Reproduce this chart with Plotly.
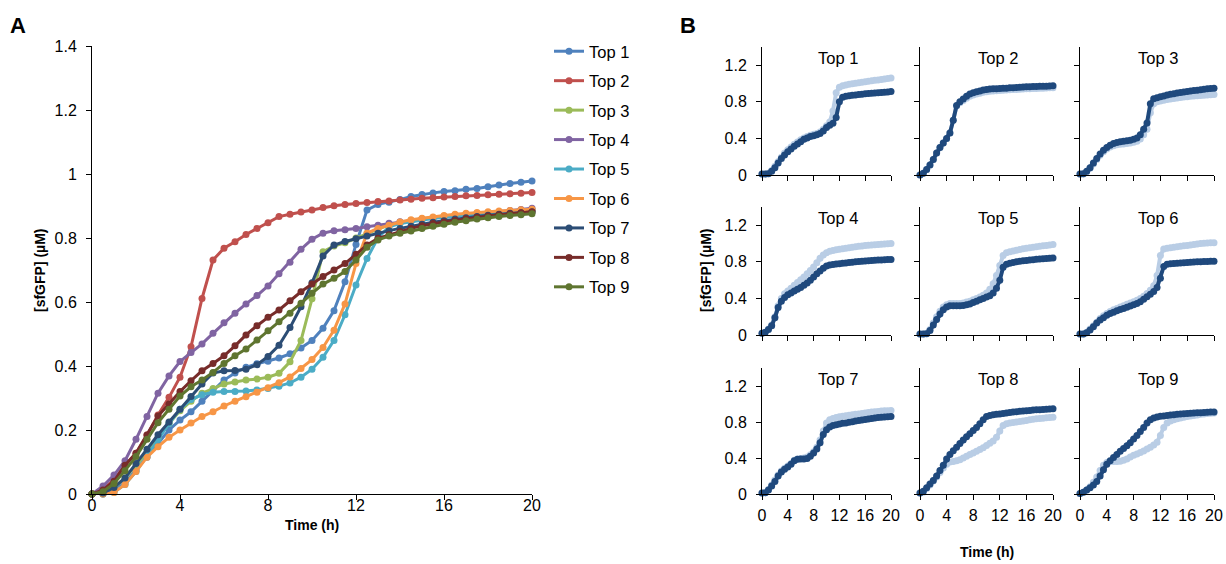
import plotly.graph_objects as go

W, H = 1226, 564

# ---------------- data ----------------
TIME_H = [h / 2 for h in range(41)]          # 0, 0.5, ... 20 h
SERIES = ["Top 1", "Top 2", "Top 3", "Top 4", "Top 5", "Top 6", "Top 7", "Top 8", "Top 9"]

# Panel A: [sfGFP] (uM) every 0.5 h
A_TOP1 = [0, 0, 0.01, 0.035, 0.075, 0.115, 0.158, 0.2, 0.231, 0.257, 0.29, 0.325, 0.356, 0.378, 0.396, 0.407, 0.415, 0.425, 0.438, 0.456, 0.48, 0.518, 0.573, 0.663, 0.78, 0.8875, 0.905, 0.912, 0.92, 0.93, 0.936, 0.941, 0.945, 0.948, 0.952, 0.955, 0.96, 0.966, 0.97, 0.974, 0.978]
A_TOP2 = [0, 0.015, 0.045, 0.09, 0.127, 0.184, 0.247, 0.302, 0.365, 0.46, 0.611, 0.731, 0.768, 0.788, 0.811, 0.83, 0.848, 0.867, 0.874, 0.881, 0.8875, 0.895, 0.901, 0.905, 0.908, 0.911, 0.914, 0.916, 0.919, 0.921, 0.924, 0.926, 0.928, 0.93, 0.932, 0.933, 0.935, 0.937, 0.938, 0.94, 0.942]
A_TOP3 = [0, 0.005, 0.02, 0.05, 0.09, 0.13, 0.175, 0.22, 0.26, 0.29, 0.315, 0.33, 0.344, 0.35, 0.356, 0.359, 0.365, 0.377, 0.413, 0.48, 0.61, 0.757, 0.775, 0.785, 0.8, 0.815, 0.828, 0.84, 0.848, 0.855, 0.86, 0.864, 0.868, 0.872, 0.875, 0.877, 0.879, 0.881, 0.883, 0.885, 0.887]
A_TOP4 = [0, 0.025, 0.059, 0.104, 0.171, 0.242, 0.315, 0.369, 0.414, 0.442, 0.469, 0.502, 0.535, 0.565, 0.594, 0.62, 0.65, 0.688, 0.724, 0.765, 0.796, 0.815, 0.823, 0.826, 0.83, 0.835, 0.84, 0.846, 0.851, 0.855, 0.859, 0.863, 0.866, 0.869, 0.872, 0.875, 0.878, 0.882, 0.886, 0.889, 0.893]
A_TOP5 = [0, 0, 0.005, 0.03, 0.07, 0.12, 0.17, 0.22, 0.265, 0.295, 0.31, 0.318, 0.32, 0.32, 0.322, 0.325, 0.33, 0.337, 0.347, 0.365, 0.39, 0.427, 0.48, 0.56, 0.653, 0.736, 0.8, 0.835, 0.845, 0.851, 0.856, 0.861, 0.865, 0.869, 0.872, 0.875, 0.878, 0.88, 0.882, 0.884, 0.886]
A_TOP6 = [0, 0, 0.005, 0.03, 0.07, 0.115, 0.148, 0.177, 0.2, 0.222, 0.242, 0.257, 0.275, 0.29, 0.304, 0.318, 0.332, 0.348, 0.366, 0.392, 0.42, 0.458, 0.512, 0.594, 0.72, 0.815, 0.83, 0.84, 0.85, 0.857, 0.862, 0.866, 0.87, 0.874, 0.877, 0.88, 0.882, 0.884, 0.886, 0.888, 0.89]
A_TOP7 = [0, 0.003, 0.02, 0.05, 0.095, 0.14, 0.185, 0.225, 0.265, 0.305, 0.344, 0.378, 0.385, 0.386, 0.39, 0.404, 0.43, 0.465, 0.52, 0.585, 0.66, 0.744, 0.778, 0.789, 0.798, 0.806, 0.815, 0.823, 0.83, 0.837, 0.843, 0.849, 0.854, 0.859, 0.863, 0.867, 0.871, 0.874, 0.877, 0.879, 0.881]
A_TOP8 = [0, 0.0125, 0.04, 0.09, 0.127, 0.184, 0.244, 0.281, 0.32, 0.354, 0.385, 0.408, 0.432, 0.463, 0.497, 0.526, 0.552, 0.575, 0.604, 0.632, 0.656, 0.68, 0.7, 0.72, 0.749, 0.778, 0.799, 0.81, 0.82, 0.83, 0.838, 0.845, 0.85, 0.855, 0.86, 0.865, 0.869, 0.873, 0.876, 0.879, 0.882]
A_TOP9 = [0, 0.007, 0.033, 0.073, 0.117, 0.171, 0.223, 0.265, 0.306, 0.335, 0.356, 0.38, 0.408, 0.432, 0.453, 0.481, 0.51, 0.538, 0.565, 0.596, 0.627, 0.656, 0.674, 0.695, 0.731, 0.771, 0.794, 0.806, 0.815, 0.822, 0.83, 0.837, 0.843, 0.849, 0.854, 0.859, 0.863, 0.867, 0.87, 0.873, 0.876]

# Panel B: light and dark series per construct, every 0.5 h
B_TOP1_LIGHT = [0.01, 0.01, 0.018, 0.05, 0.095, 0.145, 0.195, 0.24, 0.275, 0.305, 0.335, 0.36, 0.385, 0.405, 0.42, 0.435, 0.445, 0.455, 0.47, 0.5, 0.54, 0.58, 0.7, 0.9, 0.96, 0.975, 0.985, 0.992, 0.998, 1.004, 1.01, 1.015, 1.02, 1.025, 1.03, 1.035, 1.04, 1.045, 1.05, 1.055, 1.06]
B_TOP1_DARK = [0.01, 0.01, 0.015, 0.04, 0.08, 0.13, 0.18, 0.22, 0.255, 0.285, 0.315, 0.34, 0.365, 0.39, 0.405, 0.42, 0.43, 0.44, 0.455, 0.48, 0.52, 0.545, 0.565, 0.63, 0.8, 0.85, 0.86, 0.866, 0.871, 0.876, 0.88, 0.884, 0.888, 0.891, 0.894, 0.897, 0.9, 0.903, 0.906, 0.909, 0.912]
B_TOP2_LIGHT = [0, 0.02, 0.06, 0.11, 0.17, 0.24, 0.3, 0.35, 0.4, 0.46, 0.6, 0.755, 0.79, 0.815, 0.84, 0.86, 0.875, 0.885, 0.895, 0.905, 0.91, 0.915, 0.918, 0.921, 0.924, 0.927, 0.93, 0.932, 0.934, 0.936, 0.938, 0.94, 0.942, 0.943, 0.945, 0.946, 0.948, 0.95, 0.952, 0.953, 0.955]
B_TOP2_DARK = [0, 0.02, 0.06, 0.11, 0.17, 0.24, 0.3, 0.35, 0.4, 0.46, 0.6, 0.76, 0.8, 0.83, 0.86, 0.885, 0.9, 0.91, 0.92, 0.93, 0.935, 0.94, 0.942, 0.944, 0.946, 0.948, 0.95, 0.953, 0.955, 0.957, 0.96, 0.962, 0.964, 0.966, 0.968, 0.969, 0.97, 0.971, 0.972, 0.974, 0.975]
B_TOP3_LIGHT = [0.01, 0.012, 0.035, 0.075, 0.12, 0.17, 0.215, 0.255, 0.285, 0.305, 0.32, 0.33, 0.335, 0.34, 0.345, 0.35, 0.357, 0.37, 0.395, 0.44, 0.5, 0.68, 0.78, 0.8, 0.81, 0.818, 0.825, 0.832, 0.838, 0.843, 0.848, 0.852, 0.856, 0.86, 0.863, 0.866, 0.869, 0.872, 0.875, 0.878, 0.88]
B_TOP3_DARK = [0.01, 0.015, 0.04, 0.08, 0.13, 0.18, 0.23, 0.27, 0.3, 0.325, 0.345, 0.355, 0.365, 0.37, 0.375, 0.38, 0.39, 0.405, 0.44, 0.5, 0.57, 0.78, 0.835, 0.845, 0.855, 0.865, 0.875, 0.882, 0.89, 0.897, 0.903, 0.908, 0.913, 0.918, 0.923, 0.928, 0.933, 0.938, 0.943, 0.947, 0.95]
B_TOP4_LIGHT = [0.02, 0.03, 0.065, 0.11, 0.2, 0.32, 0.4, 0.45, 0.48, 0.51, 0.545, 0.575, 0.605, 0.635, 0.67, 0.705, 0.745, 0.79, 0.84, 0.875, 0.9, 0.915, 0.925, 0.932, 0.938, 0.944, 0.95, 0.955, 0.96, 0.965, 0.97, 0.974, 0.978, 0.982, 0.985, 0.988, 0.99, 0.993, 0.995, 0.997, 1.0]
B_TOP4_DARK = [0.02, 0.03, 0.06, 0.1, 0.19, 0.3, 0.37, 0.41, 0.44, 0.46, 0.48, 0.5, 0.52, 0.545, 0.57, 0.6, 0.635, 0.67, 0.7, 0.73, 0.755, 0.765, 0.772, 0.776, 0.78, 0.784, 0.788, 0.792, 0.796, 0.8, 0.803, 0.806, 0.809, 0.812, 0.815, 0.817, 0.819, 0.821, 0.823, 0.825, 0.827]
B_TOP5_LIGHT = [0.01, 0.01, 0.02, 0.06, 0.13, 0.2, 0.26, 0.305, 0.33, 0.345, 0.345, 0.345, 0.345, 0.35, 0.36, 0.37, 0.385, 0.4, 0.415, 0.435, 0.46, 0.5, 0.56, 0.65, 0.76, 0.87, 0.9, 0.91, 0.92, 0.928, 0.935, 0.942, 0.948, 0.955, 0.96, 0.965, 0.97, 0.975, 0.98, 0.985, 0.99]
B_TOP5_DARK = [0.01, 0.01, 0.015, 0.05, 0.11, 0.17, 0.23, 0.275, 0.305, 0.32, 0.32, 0.32, 0.32, 0.322, 0.33, 0.34, 0.355, 0.37, 0.385, 0.4, 0.415, 0.43, 0.46, 0.51, 0.6, 0.74, 0.775, 0.785, 0.793, 0.8, 0.806, 0.811, 0.816, 0.82, 0.824, 0.828, 0.832, 0.835, 0.838, 0.84, 0.842]
B_TOP6_LIGHT = [0.01, 0.012, 0.03, 0.065, 0.1, 0.14, 0.18, 0.21, 0.235, 0.258, 0.275, 0.29, 0.305, 0.32, 0.335, 0.35, 0.365, 0.38, 0.4, 0.425, 0.455, 0.49, 0.54, 0.65, 0.87, 0.94, 0.95, 0.955, 0.96, 0.965, 0.97, 0.975, 0.98, 0.985, 0.99, 0.995, 1.0, 1.003, 1.006, 1.008, 1.01]
B_TOP6_DARK = [0.01, 0.01, 0.025, 0.055, 0.09, 0.13, 0.165, 0.19, 0.215, 0.236, 0.25, 0.265, 0.278, 0.29, 0.303, 0.316, 0.33, 0.345, 0.365, 0.39, 0.418, 0.445, 0.475, 0.52, 0.62, 0.75, 0.775, 0.78, 0.782, 0.785, 0.788, 0.79, 0.793, 0.796, 0.798, 0.8, 0.802, 0.804, 0.805, 0.806, 0.807]
B_TOP7_LIGHT = [0.01, 0.015, 0.05, 0.1, 0.155, 0.21, 0.255, 0.285, 0.31, 0.34, 0.375, 0.39, 0.395, 0.4, 0.41, 0.435, 0.47, 0.52, 0.6, 0.7, 0.79, 0.825, 0.84, 0.85, 0.858, 0.865, 0.87, 0.875, 0.88, 0.885, 0.89, 0.895, 0.9, 0.905, 0.91, 0.915, 0.918, 0.921, 0.924, 0.926, 0.928]
B_TOP7_DARK = [0.01, 0.015, 0.045, 0.09, 0.14, 0.2, 0.245, 0.275, 0.3, 0.33, 0.37, 0.385, 0.39, 0.39, 0.395, 0.42, 0.455, 0.5, 0.57, 0.66, 0.715, 0.745, 0.76, 0.77, 0.778, 0.785, 0.79, 0.797, 0.803, 0.81, 0.816, 0.822, 0.828, 0.834, 0.84, 0.845, 0.85, 0.853, 0.856, 0.859, 0.862]
B_TOP8_LIGHT = [0.01, 0.02, 0.06, 0.1, 0.145, 0.19, 0.24, 0.29, 0.33, 0.355, 0.36, 0.37, 0.38, 0.4, 0.42, 0.44, 0.455, 0.475, 0.495, 0.515, 0.54, 0.565, 0.59, 0.63, 0.7, 0.76, 0.78, 0.79, 0.795, 0.8, 0.806, 0.812, 0.818, 0.824, 0.83, 0.835, 0.84, 0.843, 0.846, 0.849, 0.852]
B_TOP8_DARK = [0.01, 0.03, 0.07, 0.11, 0.15, 0.2, 0.26, 0.32, 0.39, 0.44, 0.48, 0.52, 0.56, 0.6, 0.635, 0.67, 0.705, 0.74, 0.78, 0.825, 0.86, 0.872, 0.88, 0.885, 0.89, 0.895, 0.9, 0.905, 0.91, 0.915, 0.92, 0.923, 0.926, 0.929, 0.932, 0.935, 0.937, 0.94, 0.942, 0.945, 0.948]
B_TOP9_LIGHT = [0.005, 0.02, 0.045, 0.08, 0.13, 0.19, 0.26, 0.32, 0.35, 0.36, 0.36, 0.362, 0.365, 0.375, 0.39, 0.41, 0.43, 0.445, 0.46, 0.478, 0.5, 0.52, 0.545, 0.575, 0.65, 0.74, 0.79, 0.81, 0.825, 0.835, 0.845, 0.853, 0.86, 0.867, 0.873, 0.879, 0.885, 0.89, 0.894, 0.897, 0.9]
B_TOP9_DARK = [0.005, 0.02, 0.045, 0.07, 0.1, 0.14, 0.2, 0.27, 0.33, 0.37, 0.405, 0.44, 0.475, 0.505, 0.535, 0.57, 0.61, 0.65, 0.695, 0.74, 0.79, 0.826, 0.845, 0.855, 0.863, 0.868, 0.873, 0.877, 0.881, 0.885, 0.889, 0.892, 0.895, 0.898, 0.9, 0.902, 0.904, 0.906, 0.908, 0.91, 0.911]

A_TICKS_X = [0, 4, 8, 12, 16, 20]
A_TICKS_Y = [0, 0.2, 0.4, 0.6, 0.8, 1, 1.2, 1.4]
B_TICKS_X = [0, 4, 8, 12, 16, 20]
B_TICKS_Y = [0, 0.4, 0.8, 1.2]

# ---------------- style ----------------
A_COLORS = ["#4F81BD", "#C0504D", "#9BBB59", "#8064A2", "#4BACC6",
            "#F79646", "#2C4D75", "#772C2A", "#5F7530"]
LIGHT = "#B9CDE5"
DARK = "#1F497D"
FONT = "Liberation Sans, Arial, sans-serif"

A_DATA = [A_TOP1, A_TOP2, A_TOP3, A_TOP4, A_TOP5, A_TOP6, A_TOP7, A_TOP8, A_TOP9]
B_DATA = [(B_TOP1_LIGHT, B_TOP1_DARK), (B_TOP2_LIGHT, B_TOP2_DARK), (B_TOP3_LIGHT, B_TOP3_DARK),
          (B_TOP4_LIGHT, B_TOP4_DARK), (B_TOP5_LIGHT, B_TOP5_DARK), (B_TOP6_LIGHT, B_TOP6_DARK),
          (B_TOP7_LIGHT, B_TOP7_DARK), (B_TOP8_LIGHT, B_TOP8_DARK), (B_TOP9_LIGHT, B_TOP9_DARK)]
for arr in A_DATA + [a for p in B_DATA for a in p]:
    assert len(arr) == len(TIME_H), len(arr)


def fx(px):
    return px / W


def fy(py):
    return 1 - py / H


fig = go.Figure()

# Panel A
for name, vals, col in zip(SERIES, A_DATA, A_COLORS):
    fig.add_trace(go.Scatter(
        x=TIME_H, y=vals, name=name, mode="lines+markers",
        line=dict(color=col, width=3), marker=dict(color=col, size=7),
        legendgroup=name, cliponaxis=False, xaxis="x", yaxis="y"))

axis_common = dict(showline=True, linecolor="black", linewidth=1, ticks="outside",
                   ticklen=5, tickwidth=1, tickcolor="black", showgrid=False,
                   zeroline=False, automargin=False,
                   tickfont=dict(family=FONT, size=16, color="black"))

layout = dict(
    template="none",
    width=W, height=H, margin=dict(l=0, r=0, t=0, b=0, pad=0),
    paper_bgcolor="white", plot_bgcolor="white",
    font=dict(family=FONT, color="black"),
    showlegend=True,
    legend=dict(x=fx(549), y=fy(34), xanchor="left", yanchor="top",
                font=dict(family=FONT, size=16.5, color="black"),
                tracegroupgap=5, bgcolor="rgba(0,0,0,0)", traceorder="grouped",
                borderwidth=0),
    xaxis=dict(domain=[fx(92), fx(532)], range=[0, 20], tickvals=A_TICKS_X, anchor="y",
               ticklabelstandoff=-8, **axis_common),
    yaxis=dict(domain=[fy(494), fy(46)], range=[0, 1.4], tickvals=A_TICKS_Y, anchor="x",
               ticklabelstandoff=6, **axis_common),
)

COLS = [(762, 891), (920, 1053), (1080, 1214)]
ROWS = [(47, 175), (207, 335), (368, 494)]
annotations = []
for i, (name, (light, dark)) in enumerate(zip(SERIES, B_DATA)):
    r, c = divmod(i, 3)
    k = i + 2
    xa, ya = f"x{k}", f"y{k}"
    for vals, col in ((light, LIGHT), (dark, DARK)):
        fig.add_trace(go.Scatter(
            x=TIME_H, y=vals, mode="lines+markers", showlegend=False,
            line=dict(color=col, width=4), marker=dict(color=col, size=7),
            cliponaxis=False, xaxis=xa, yaxis=ya, name=name))
    layout[f"xaxis{k}"] = dict(domain=[fx(COLS[c][0]), fx(COLS[c][1])], range=[0, 20],
                               tickvals=B_TICKS_X, showticklabels=(r == 2), anchor=ya,
                               ticklabelstandoff=2, **axis_common)
    layout[f"yaxis{k}"] = dict(domain=[fy(ROWS[r][1]), fy(ROWS[r][0])], range=[0, 1.4],
                               tickvals=B_TICKS_Y, showticklabels=(c == 0), anchor=xa,
                               ticklabelstandoff=6, **axis_common)
    annotations.append(dict(text=name, xref=f"{xa} domain", yref=f"{ya} domain",
                            x=0.5, y=1, xanchor="center", yanchor="top", xshift=11,
                            showarrow=False, font=dict(family=FONT, size=16.5, color="black")))

title_font = dict(family=FONT, size=14, color="black")
annotations += [
    dict(text="<b>A</b>", xref="paper", yref="paper", x=fx(18), y=fy(25),
         xanchor="center", yanchor="middle", showarrow=False, font=dict(family=FONT, size=22)),
    dict(text="<b>B</b>", xref="paper", yref="paper", x=fx(688), y=fy(25),
         xanchor="center", yanchor="middle", showarrow=False, font=dict(family=FONT, size=22)),
    dict(text="<b>[sfGFP] (µM)</b>", xref="paper", yref="paper", x=fx(40), y=fy(270),
         xanchor="center", yanchor="middle", textangle=-90, showarrow=False, font=title_font),
    dict(text="<b>Time (h)</b>", xref="paper", yref="paper", x=fx(312), y=fy(525),
         xanchor="center", yanchor="middle", showarrow=False, font=title_font),
    dict(text="<b>[sfGFP] (µM)</b>", xref="paper", yref="paper", x=fx(706), y=fy(270),
         xanchor="center", yanchor="middle", textangle=-90, showarrow=False, font=title_font),
    dict(text="<b>Time (h)</b>", xref="paper", yref="paper", x=fx(987), y=fy(552),
         xanchor="center", yanchor="middle", showarrow=False, font=title_font),
]
layout["annotations"] = annotations
fig.update_layout(**layout)
fig.write_html("out.html", config={"displayModeBar": False},
               post_script="document.body.style.margin='0';document.body.style.overflow='hidden';")
